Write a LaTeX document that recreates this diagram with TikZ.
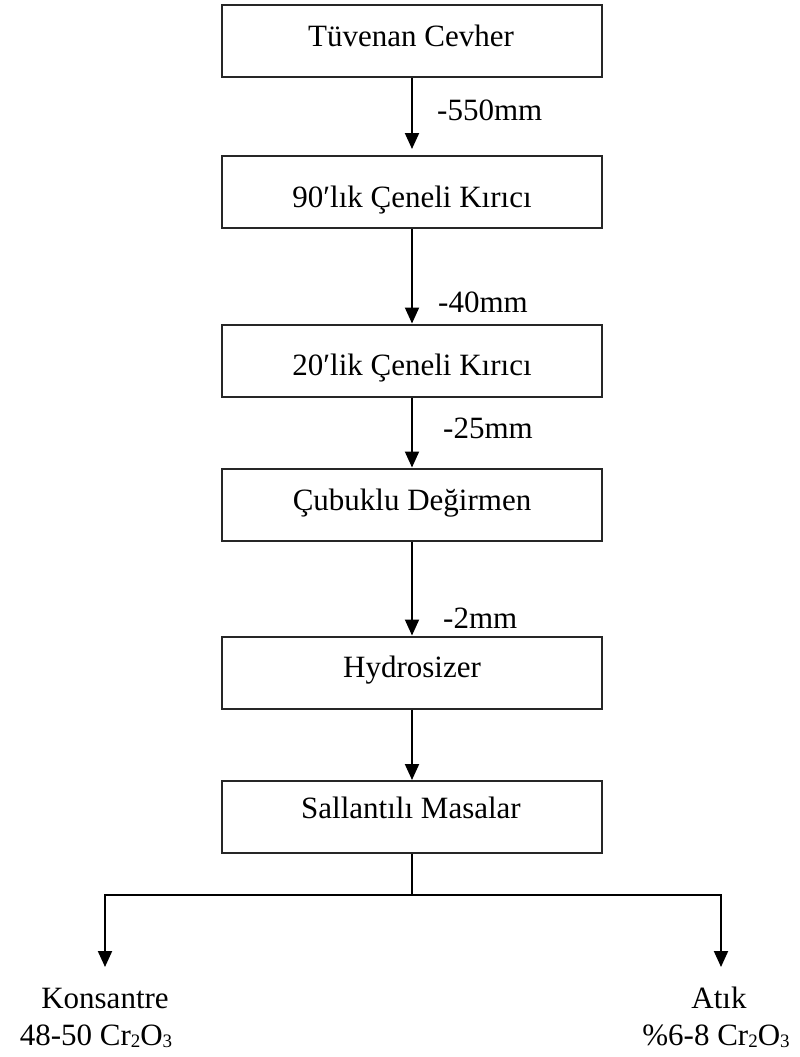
\documentclass[tikz,border=0pt]{standalone}
\usepackage{fontspec}
\setmainfont{Liberation Serif}
\usetikzlibrary{arrows.meta}
\newcommand{\mysub}[1]{\raisebox{-2pt}{\fontsize{19}{20}\selectfont #1}}
\begin{document}
\begin{tikzpicture}[x=1pt,y=-1pt,
  box/.style={draw=black!85, line width=2pt, minimum width=380pt, minimum height=72pt, inner sep=0pt},
  txt/.style={anchor=base, inner sep=0pt, font=\fontsize{31}{36}\selectfont},
  lbl/.style={anchor=base west, inner sep=0pt, font=\fontsize{31}{36}\selectfont},
  conn/.style={line width=2pt, draw=black},
  arr/.style={conn, -{Triangle[width=14pt,length=16pt]}}]
\useasboundingbox (0,0) rectangle (800,1057);
% boxes
\node[box] (b1) at (412,41) {};
\node[box] (b2) at (412,192) {};
\node[box] (b3) at (412,360.5) {};
\node[box] (b4) at (412,504.5) {};
\node[box] (b5) at (412,672.5) {};
\node[box] (b6) at (412,817) {};
% box texts
\node[txt] (t1) at (411,47) {Tüvenan Cevher};
\node[txt] (t2) at (412,207) {90′lık Çeneli Kırıcı};
\node[txt] (t3) at (412,375) {20′lik Çeneli Kırıcı};
\node[txt] (t4) at (412,510) {Çubuklu Değirmen};
\node[txt] (t5) at (412,677) {Hydrosizer};
\node[txt] (t6) at (411,818) {Sallantılı Masalar};
% connectors
\draw[arr, shorten >=6pt] (b1.south) -- (b2.north);
\draw[arr] (b2.south) -- (b3.north);
\draw[arr] (b3.south) -- (b4.north);
\draw[arr] (b4.south) -- (b5.north);
\draw[arr] (b5.south) -- (b6.north);
% labels
\node[lbl] (l1) at (437,120) {-550mm};
\node[lbl] (l2) at (438,312) {-40mm};
\node[lbl] (l3) at (443,438) {-25mm};
\node[lbl] (l4) at (443,628) {-2mm};
% split
\coordinate (j) at (412,895);
\coordinate (kend) at (105,967);
\coordinate (aend) at (721,967);
\draw[conn] (b6.south) -- (j);
\draw[arr] (j) -| (kend);
\draw[arr] (j) -| (aend);
% outputs
\node[txt] (k1) at (105,1008) {Konsantre};
\node[txt] (k2) at (96,1045) {48-50 Cr\mysub{2}O\mysub{3}};
\node[txt] (a1) at (719,1008) {Atık};
\node[txt] (a2) at (716,1045) {\%6-8 Cr\mysub{2}O\mysub{3}};
\end{tikzpicture}
\end{document}
